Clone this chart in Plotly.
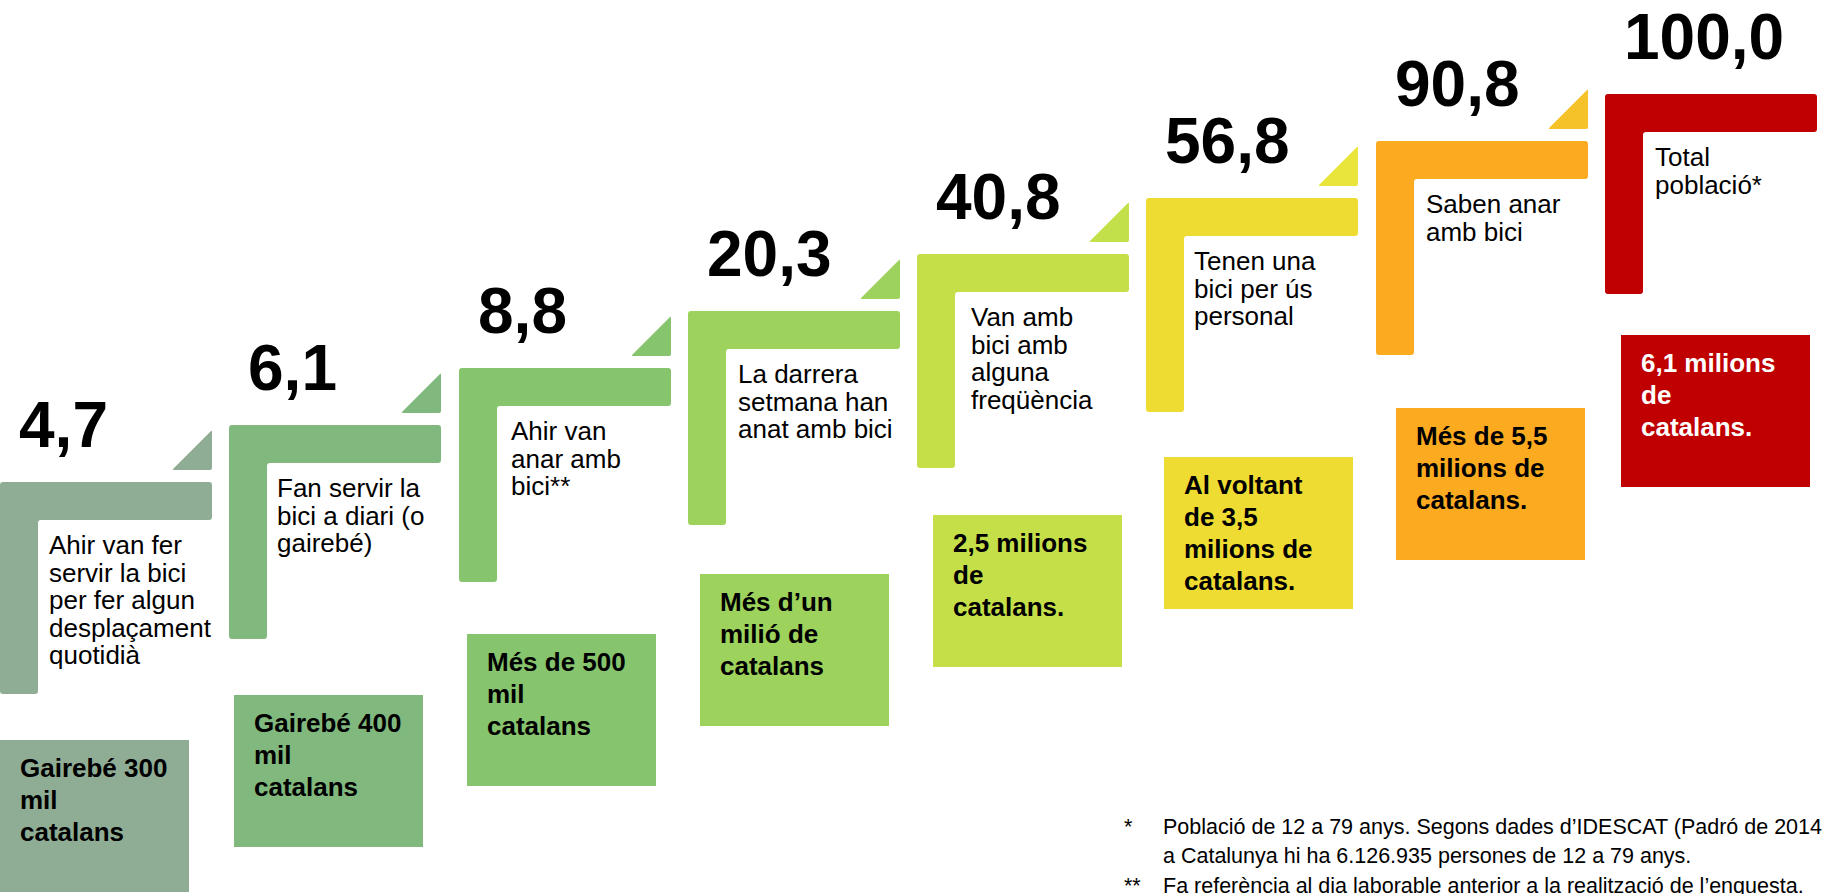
import plotly.graph_objects as go

# share of the Catalan population (12-79 years), %
pcts = [4.7, 6.1, 8.8, 20.3, 40.8, 56.8, 90.8, 100.0]
labels = [
    "Ahir van fer<br>servir la bici<br>per fer algun<br>desplaçament<br>quotidià",
    "Fan servir la<br>bici a diari (o<br>gairebé)",
    "Ahir van<br>anar amb<br>bici**",
    "La darrera<br>setmana han<br>anat amb bici",
    "Van amb<br>bici amb<br>alguna<br>freqüència",
    "Tenen una<br>bici per ús<br>personal",
    "Saben anar<br>amb bici",
    "Total<br>població*",
]
people = [
    "Gairebé 300<br>mil<br>catalans",
    "Gairebé 400<br>mil<br>catalans",
    "Més de 500<br>mil<br>catalans",
    "Més d’un<br>milió de<br>catalans",
    "2,5 milions<br>de<br>catalans.",
    "Al voltant<br>de 3,5<br>milions de<br>catalans.",
    "Més de 5,5<br>milions de<br>catalans.",
    "6,1 milions<br>de<br>catalans.",
]
note_marks = ["*", "", "**"]
note_lines = [
    "Població de 12 a 79 anys. Segons dades d’IDESCAT (Padró de 2014)",
    "a Catalunya hi ha 6.126.935 persones de 12 a 79 anys.",
    "Fa referència al dia laborable anterior a la realització de l’enquesta.",
]

step_colors = ["#8FAD94", "#80B87E", "#86C46D", "#9DD35C", "#C5DF48", "#EFDC32", "#FCAA20", "#C00000"]
tri_colors = ["#8FAD94", "#80B87E", "#86C46D", "#9DD35C", "#C2E04A", "#E9E53A", "#F6C229", None]
box_text_colors = ["black"] * 7 + ["white"]

# layout (pixels)
W, H = 1822, 894
L_W, BAR = 212, 38
step_x = [round(229.3 * i) for i in range(8)]
step_y = [482, 425, 368, 311, 254, 198, 141, 94]
step_h = [212, 214, 214, 214, 214, 214, 214, 200]
label_dx = [47, 46, 50, 48, 52, 46, 48, 48]
box_x = [0, 234, 467, 700, 933, 1164, 1396, 1621]
box_y = [740, 695, 634, 574, 515, 457, 408, 335]
BOX_W, BOX_H = 189, 152
FONT = "Liberation Sans, Arial, sans-serif"


def rounded_path(pts, r=3):
    n = len(pts)
    out = ""
    for i in range(n):
        x0, y0 = pts[i - 1]
        x1, y1 = pts[i]
        x2, y2 = pts[(i + 1) % n]
        n1 = max(abs(x1 - x0) + abs(y1 - y0), 1e-9)
        n2 = max(abs(x2 - x1) + abs(y2 - y1), 1e-9)
        ax, ay = x1 - (x1 - x0) / n1 * r, y1 - (y1 - y0) / n1 * r
        bx, by = x1 + (x2 - x1) / n2 * r, y1 + (y2 - y1) / n2 * r
        out += ("M" if i == 0 else "L") + f"{ax:.1f},{ay:.1f} Q{x1},{y1} {bx:.1f},{by:.1f} "
    return out + "Z"


fig = go.Figure()
shapes = []
annotations = []

for i, v in enumerate(pcts):
    x, y, h = step_x[i], step_y[i], step_h[i]
    col = step_colors[i]
    # L-shaped step
    pts = [(x, y), (x + L_W, y), (x + L_W, y + BAR), (x + BAR, y + BAR), (x + BAR, y + h), (x, y + h)]
    shapes.append(dict(type="path", path=rounded_path(pts), fillcolor=col, line_width=0, layer="below"))
    # small triangle
    if tri_colors[i]:
        r = x + L_W
        b = y - 12
        tri = [(r, b - 40), (r, b), (r - 40, b)]
        shapes.append(dict(type="path", path=rounded_path(tri, 2), fillcolor=tri_colors[i], line_width=0, layer="below"))
    # box with number of people
    shapes.append(dict(type="rect", x0=box_x[i], x1=box_x[i] + BOX_W, y0=box_y[i], y1=box_y[i] + BOX_H,
                       fillcolor=col, line_width=0, layer="below"))

    annotations.append(dict(x=x + 17, y=y - 57, text=f"{v:.1f}".replace(".", ","), showarrow=False,
                            xanchor="left", yanchor="middle",
                            font=dict(family=FONT, size=64, color="black", weight="bold")))
    for k, line in enumerate(labels[i].split("<br>")):
        annotations.append(dict(x=x + label_dx[i], y=y + 63 + k * 27.5, text=line, showarrow=False,
                                xanchor="left", yanchor="middle",
                                font=dict(family=FONT, size=26, color="black")))
    for k, line in enumerate(people[i].split("<br>")):
        annotations.append(dict(x=box_x[i] + 18, y=box_y[i] + 28 + k * 32, text=line, showarrow=False,
                                xanchor="left", yanchor="middle",
                                font=dict(family=FONT, size=26, color=box_text_colors[i], weight="bold")))

note_y = [827, 856, 886]
for mark, line, ny in zip(note_marks, note_lines, note_y):
    if mark:
        annotations.append(dict(x=1122, y=ny, text=mark, showarrow=False, xanchor="left", yanchor="middle",
                                font=dict(family=FONT, size=21.5, color="black")))
    annotations.append(dict(x=1161, y=ny, text=line, showarrow=False, xanchor="left", yanchor="middle",
                            font=dict(family=FONT, size=21.5, color="black")))

fig.update_layout(
    width=W, height=H,
    margin=dict(l=0, r=0, t=0, b=0),
    paper_bgcolor="white", plot_bgcolor="white",
    xaxis=dict(range=[0, W], visible=False, fixedrange=True),
    yaxis=dict(range=[H, 0], visible=False, fixedrange=True),
    shapes=shapes, annotations=annotations,
    showlegend=False,
)

fig.write_html("out.html", config={"displayModeBar": False},
               post_script="document.body.style.margin='0';")
